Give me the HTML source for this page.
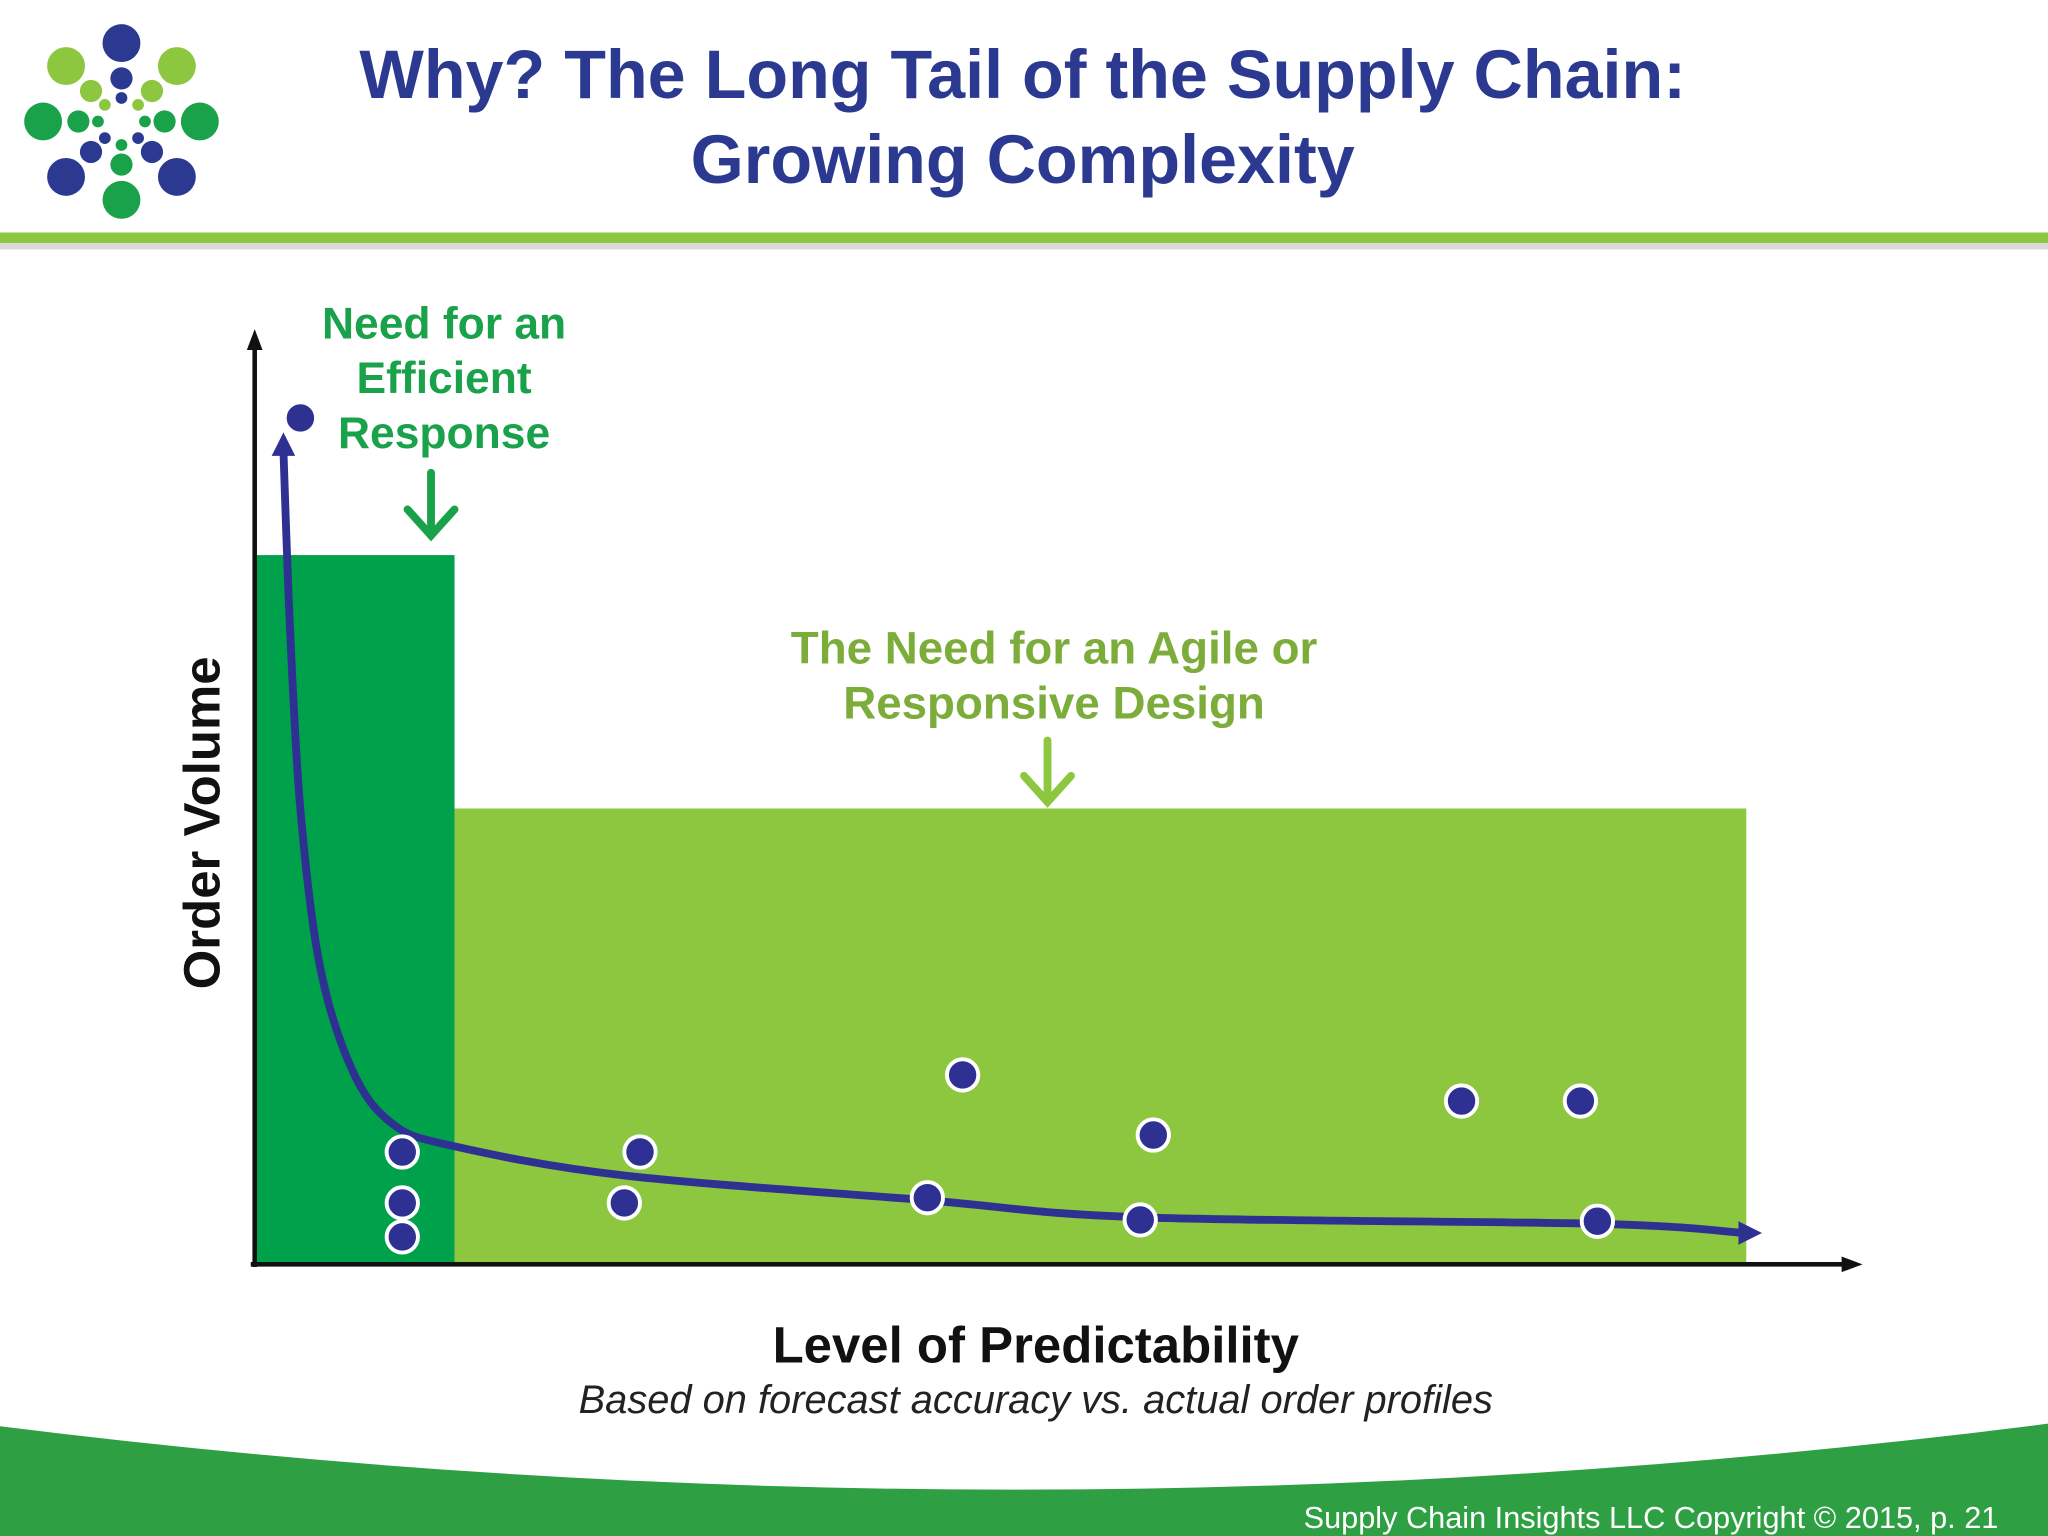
<!DOCTYPE html>
<html><head><meta charset="utf-8"><style>
html,body{margin:0;padding:0;background:#fff}
svg{display:block}
text{font-family:"Liberation Sans","DejaVu Sans",sans-serif}
</style></head><body>
<svg id="chart" width="2048" height="1536" viewBox="0 0 1568 1176" xmlns="http://www.w3.org/2000/svg">
<rect width="1568" height="1176" fill="#ffffff"/>
<g id="logo"></g>
<text x="783" y="75" text-anchor="middle" font-size="52.3" font-weight="bold" fill="#2b3990">Why? The Long Tail of the Supply Chain:</text>
<text x="783" y="140" text-anchor="middle" font-size="52.3" font-weight="bold" fill="#2b3990">Growing Complexity</text>
<rect x="0" y="186" width="1568" height="5" fill="#d9d9d9"/>
<rect x="0" y="178" width="1568" height="8" fill="#8dc63f"/>

<rect x="195" y="425" width="153" height="543" fill="#00a14b"/>
<rect x="348" y="619" width="989" height="349" fill="#8dc63f"/>

<g stroke="#111" stroke-width="3.5" fill="none">
<line x1="195" y1="970" x2="195" y2="262"/>
<line x1="192" y1="968" x2="1418" y2="968"/>
</g>
<polygon points="195,252 189,268 201,268" fill="#111"/>
<polygon points="1426,968 1410,962 1410,974" fill="#111"/>

<g id="curve"></g>
<g id="dots"></g>

<g fill="#1aa24a" font-size="34" font-weight="bold" text-anchor="middle">
<text x="340" y="259">Need for an</text>
<text x="340" y="301">Efficient</text>
<text x="340" y="343">Response</text>
</g>
<g stroke="#1aa24a" stroke-width="6" fill="none" stroke-linecap="round">
<line x1="330" y1="362" x2="330" y2="410"/><polyline points="312,390 330,410 348,390"/>
</g>
<g fill="#7cac3a" font-size="35" font-weight="bold" text-anchor="middle">
<text x="807" y="508">The Need for an Agile or</text>
<text x="807" y="550">Responsive Design</text>
</g>
<g stroke="#8dc63f" stroke-width="6" fill="none" stroke-linecap="round">
<line x1="802" y1="567" x2="802" y2="614"/><polyline points="784,594 802,614 820,594"/>
</g>

<text transform="translate(168,630) rotate(-90)" text-anchor="middle" font-size="39" font-weight="bold" fill="#111">Order Volume</text>
<text x="793" y="1043" text-anchor="middle" font-size="39" font-weight="bold" fill="#111">Level of Predictability</text>
<text x="793" y="1082" text-anchor="middle" font-size="30.5" font-style="italic" fill="#222">Based on forecast accuracy vs. actual order profiles</text>

<path d="M0,1092 Q784,1190 1568,1090 L1568,1176 L0,1176 Z" fill="#2ea043"/>
<text x="1530" y="1170" text-anchor="end" font-size="23.5" fill="#ffffff">Supply Chain Insights LLC Copyright © 2015, p. 21</text>
</svg>
<script>
// data in units: x = predictability (0..1230), y = order volume (0..713)
const curveX = [1140, 1028, 678, 515, 283, 150, 105, 75, 50, 35, 27, 22];
const curveY = [24, 31, 36, 49, 68, 91, 108, 148, 228, 348, 488, 623];
const dotX = [35, 113, 113, 113, 295, 283, 542, 515, 688, 678, 924, 1015, 1028];
const dotY = [648, 86, 47, 21, 86, 47, 145, 51, 99, 34, 125, 125, 33];
const ox = 195, oy = 968;
function sx(v){ return ox + v; }
function sy(v){ return oy - v; }
const NS = "http://www.w3.org/2000/svg";

const curve = document.getElementById('curve');
const P = curveX.map((v,i)=>[sx(v), sy(curveY[i])]);
let d = 'M' + P[0][0] + ',' + P[0][1];
for (let i = 0; i < P.length - 1; i++) {
  const p0 = P[Math.max(0,i-1)], p1 = P[i], p2 = P[i+1], p3 = P[Math.min(P.length-1,i+2)];
  const c1x = p1[0] + (p2[0]-p0[0])/6, c1y = p1[1] + (p2[1]-p0[1])/6;
  const c2x = p2[0] - (p3[0]-p1[0])/6, c2y = p2[1] - (p3[1]-p1[1])/6;
  d += ' C' + c1x + ',' + c1y + ' ' + c2x + ',' + c2y + ' ' + p2[0] + ',' + p2[1];
}
const p = document.createElementNS(NS, 'path');
p.setAttribute('d', d);
p.setAttribute('fill', 'none');
p.setAttribute('stroke', '#2e3192');
p.setAttribute('stroke-width', '6');


curve.appendChild(p);
const a1 = document.createElementNS(NS, 'polygon');
const ex = sx(curveX[0]) + 2, ey = sy(curveY[0]);
a1.setAttribute('points', (ex+12)+','+ey+' '+(ex-6)+','+(ey-9)+' '+(ex-6)+','+(ey+9));
a1.setAttribute('fill', '#2e3192');


curve.appendChild(a1);
const tx = sx(curveX[curveX.length-1]), ty = sy(curveY[curveY.length-1]);
const a2 = document.createElementNS(NS, 'polygon');
a2.setAttribute('points', tx+','+(ty-14)+' '+(tx-9)+','+(ty+4)+' '+(tx+9)+','+(ty+4));
a2.setAttribute('fill', '#2e3192');


curve.appendChild(a2);

const dots = document.getElementById('dots');
for (let i = 0; i < dotX.length; i++) {
  const c = document.createElementNS(NS, 'circle');
  c.setAttribute('cx', sx(dotX[i]));
  c.setAttribute('cy', sy(dotY[i]));
  c.setAttribute('r', 12);
  c.setAttribute('fill', '#2e3192');
  c.setAttribute('stroke', '#ffffff');
  c.setAttribute('stroke-width', '3');
  
  
  dots.appendChild(c);
}

// logo
const logo = document.getElementById('logo');
const cx = 93, cy = 93;
const dirCol = ['#2b3990','#8dc63f','#1aa24a','#2b3990','#1aa24a','#2b3990','#1aa24a','#8dc63f'];
const rings = [[60,14.5],[33,8.5],[18,4.5]];
for (let k = 0; k < 8; k++) {
  const ang = -Math.PI/2 + k*Math.PI/4;
  for (const r of rings) {
    const c = document.createElementNS(NS, 'circle');
    c.setAttribute('cx', cx + r[0]*Math.cos(ang));
    c.setAttribute('cy', cy + r[0]*Math.sin(ang));
    c.setAttribute('r', r[1]);
    c.setAttribute('fill', dirCol[k]);
    
    
    logo.appendChild(c);
  }
}
</script>
</body></html>
